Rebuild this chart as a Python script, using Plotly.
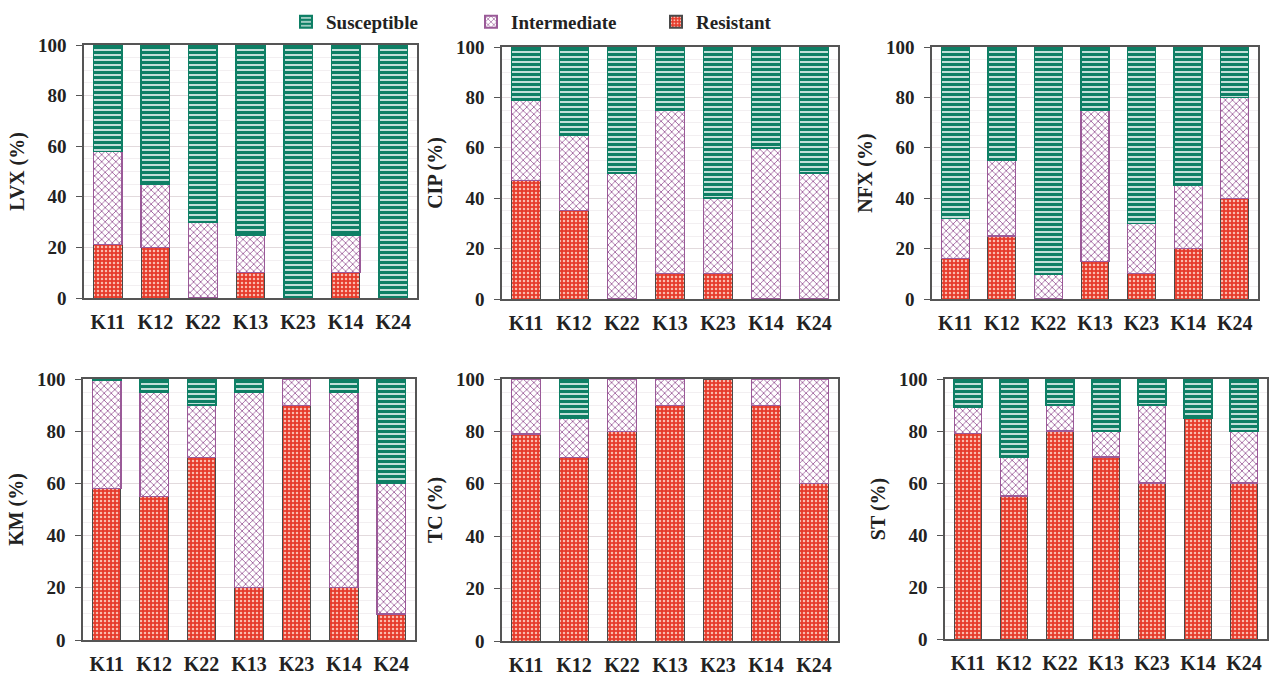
import plotly.graph_objects as go

# Strains (x categories) shared by every panel
strains = ["K11", "K12", "K22", "K13", "K23", "K14", "K24"]

# Percentages per antibiotic: resistant / intermediate / susceptible
lvx_res = [21, 20, 0, 10, 0, 10, 0]
lvx_int = [37, 25, 30, 15, 0, 15, 0]
lvx_sus = [42, 55, 70, 75, 100, 75, 100]

cip_res = [47, 35, 0, 10, 10, 0, 0]
cip_int = [32, 30, 50, 65, 30, 60, 50]
cip_sus = [21, 35, 50, 25, 60, 40, 50]

nfx_res = [16, 25, 0, 15, 10, 20, 40]
nfx_int = [16, 30, 10, 60, 20, 25, 40]
nfx_sus = [68, 45, 90, 25, 70, 55, 20]

km_res = [58, 55, 70, 20, 90, 20, 10]
km_int = [41.5, 40, 20, 75, 10, 75, 50]
km_sus = [0.5, 5, 10, 5, 0, 5, 40]

tc_res = [79, 70, 80, 90, 100, 90, 60]
tc_int = [21, 15, 20, 10, 0, 10, 40]
tc_sus = [0, 15, 0, 0, 0, 0, 0]

st_res = [79, 55, 80, 70, 60, 85, 60]
st_int = [10, 15, 10, 10, 30, 0, 20]
st_sus = [11, 30, 10, 20, 10, 15, 20]

panel_titles = ["LVX (%)", "CIP (%)", "NFX (%)", "KM (%)", "TC (%)", "ST (%)"]
panel_data = [
    (lvx_res, lvx_int, lvx_sus),
    (cip_res, cip_int, cip_sus),
    (nfx_res, nfx_int, nfx_sus),
    (km_res, km_int, km_sus),
    (tc_res, tc_int, tc_sus),
    (st_res, st_int, st_sus),
]

W, H = 1279, 676
# plot-area boxes in pixels: (left, right, top, bottom)
boxes = [
    (84, 417, 45, 298),
    (502, 838, 47, 299),
    (932, 1258, 47, 299),
    (83, 415, 379, 640),
    (502, 838, 379, 641),
    (945, 1267, 379, 639),
]

TEAL = "#0e7f65"
PURPLE = "#9a5a98"
RED = "#e63b2b"
FONT = "Liberation Serif"
TXT = "#222222"

styles = {
    "Resistant": dict(
        color=RED,
        line=dict(color="#4a4a4a", width=1),
        pattern=dict(shape=".", fgcolor="#fbbcae", bgcolor=RED, size=4,
                     solidity=0.3, fgopacity=1),
    ),
    "Intermediate": dict(
        color="white",
        line=dict(color=PURPLE, width=1.2),
        pattern=dict(shape="x", fgcolor=PURPLE, bgcolor="white", size=5,
                     solidity=0.3, fgopacity=1),
    ),
    "Susceptible": dict(
        color="white",
        line=dict(color=TEAL, width=1.5),
        pattern=dict(shape="-", fgcolor=TEAL, bgcolor="white", size=5,
                     solidity=0.7, fgopacity=1),
    ),
}


def nonzero(vals):
    # empty segments are left out so they draw no outline
    return [v if v else None for v in vals]


fig = go.Figure()

for i, (title, (res, inter, sus)) in enumerate(zip(panel_titles, panel_data)):
    n = "" if i == 0 else str(i + 1)
    xa, ya = "x" + n, "y" + n
    for name, vals in (("Resistant", res), ("Intermediate", inter), ("Susceptible", sus)):
        fig.add_trace(go.Bar(
            x=strains, y=nonzero(vals), name=name, xaxis=xa, yaxis=ya,
            marker=styles[name], showlegend=(i == 0), legendgroup=name,
        ))
    l, r, t, b = boxes[i]
    fig.layout["xaxis" + n] = dict(
        domain=[l / W, r / W], anchor=ya,
        showline=True, linecolor="#555555", linewidth=1.5, mirror=True,
        ticks="", ticklabelstandoff=5,
        tickfont=dict(family=FONT, size=20, color=TXT, weight="bold"),
        automargin=False, fixedrange=True,
    )
    fig.layout["yaxis" + n] = dict(
        domain=[1 - b / H, 1 - t / H], anchor=xa, range=[0, 100],
        tickvals=[0, 20, 40, 60, 80, 100],
        showline=True, linecolor="#555555", linewidth=1.5, mirror=True,
        ticks="outside", ticklen=6, tickcolor="#555555", ticklabelstandoff=6,
        tickfont=dict(family=FONT, size=19, color=TXT, weight="bold"),
        showgrid=True, gridcolor="#e2dadd", gridwidth=1,
        minor=dict(dtick=5, showgrid=True, gridcolor="#f2eff1", gridwidth=1),
        title=dict(text=title, standoff=8,
                   font=dict(family=FONT, size=20, color=TXT, weight="bold")),
        automargin=False, fixedrange=True, zeroline=False,
    )

fig.update_layout(
    width=W, height=H,
    margin=dict(l=0, r=0, t=0, b=0),
    barmode="stack", bargap=0.4,
    plot_bgcolor="white", paper_bgcolor="white",
    font=dict(family=FONT),
    legend=dict(
        orientation="h", traceorder="reversed",
        x=286 / W, xanchor="left", y=1 - 3 / H, yanchor="top",
        entrywidth=140, itemsizing="constant",
        font=dict(family=FONT, size=19, color=TXT, weight="bold"),
        bgcolor="rgba(0,0,0,0)",
    ),
)

fig.write_html("out.html")
